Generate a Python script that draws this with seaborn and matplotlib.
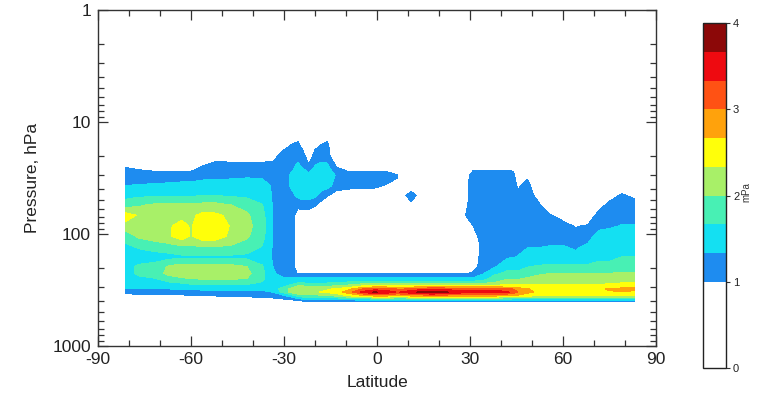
""" Ozone partial pressure cross-section: pressure vs latitude. """
import numpy as np
import matplotlib
matplotlib.use("Agg")
import matplotlib.pyplot as plt
from matplotlib.ticker import LogLocator, MultipleLocator, NullFormatter
import seaborn as sns

sns.set_style("ticks")
plt.rcParams["font.family"] = ["Liberation Sans", "DejaVu Sans"]
plt.rcParams["axes.unicode_minus"] = False

# Grid: latitude columns, pressure rows (bottom -> top)
latitude = [-81, -77, -72, -67, -63, -60, -56, -52, -47, -42, -37, -33.5, -30,
            -27, -25.5, -24, -22, -20, -18, -16, -13, -9, -5, -1, 3, 6.5,
            8.5, 11, 13.5, 17, 21, 25, 28, 31, 34, 38, 42, 44, 45.5, 48.5,
            52, 56, 60, 64, 68, 71.5, 75, 79, 83]
pressure = [420, 385, 355, 330, 310, 290, 270, 250, 225, 195, 160, 130, 105,
            85, 68, 55, 45, 37, 30, 25, 20, 16, 13]

# one profile per latitude, values in mPa, listed from 420 hPa up to 13 hPa
profiles = [
    [.4, .8, .8, 1.2, 1.3, 1.5, 1.5, 1.5, 1.55, 1.55, 1.5, 1.6, 1.8, 2.2, 2.5, 1.85, 1.55, 1.33, 1.2, .98, .6, .4, .4],
    [.4, .8, .85, 1.2, 1.3, 1.45, 1.55, 1.6, 1.72, 1.72, 1.5, 1.7, 2.05, 2.25, 2.3, 1.95, 1.6, 1.36, 1.17, .92, .5, .4, .4],
    [.4, .8, .9, 1.2, 1.3, 1.45, 1.55, 1.65, 1.82, 1.8, 1.5, 1.8, 2.15, 2.25, 2.25, 2.05, 1.6, 1.38, 1.15, .85, .5, .4, .4],
    [.4, .8, .92, 1.2, 1.33, 1.5, 1.65, 1.85, 2.1, 2.05, 1.55, 1.85, 2.3, 2.3, 2.25, 2.05, 1.6, 1.4, 1.18, .8, .5, .4, .4],
    [.4, .8, .95, 1.2, 1.35, 1.55, 1.7, 1.95, 2.2, 2.15, 1.6, 1.95, 2.5, 2.45, 2.25, 2.05, 1.62, 1.42, 1.2, .75, .5, .4, .4],
    [.4, .8, .97, 1.2, 1.38, 1.6, 1.75, 2.0, 2.2, 2.15, 1.6, 1.95, 2.3, 2.3, 2.25, 2.05, 1.62, 1.42, 1.2, .78, .5, .4, .4],
    [.4, .8, .98, 1.2, 1.4, 1.6, 1.8, 2.05, 2.2, 2.15, 1.6, 2.0, 2.55, 2.6, 2.45, 2.1, 1.65, 1.45, 1.25, 1.05, .6, .4, .4],
    [.4, .8, 1.02, 1.2, 1.4, 1.6, 1.8, 2.05, 2.25, 2.15, 1.6, 2.0, 2.5, 2.55, 2.4, 2.1, 1.65, 1.45, 1.25, 1.15, .85, .4, .4],
    [.4, .8, 1.05, 1.22, 1.4, 1.6, 1.8, 2.05, 2.2, 2.1, 1.6, 1.95, 2.25, 2.3, 2.25, 2.0, 1.62, 1.45, 1.28, 1.15, .8, .4, .4],
    [.4, .82, 1.08, 1.25, 1.4, 1.6, 1.78, 2.0, 2.1, 2.0, 1.58, 1.85, 2.05, 2.1, 2.05, 1.9, 1.58, 1.45, 1.3, 1.15, .8, .4, .4],
    [.4, .85, 1.1, 1.25, 1.4, 1.55, 1.65, 1.72, 1.75, 1.7, 1.5, 1.65, 1.78, 1.82, 1.78, 1.68, 1.52, 1.42, 1.3, 1.15, .8, .4, .4],
    [.4, .9, 1.15, 1.35, 1.5, 1.55, 1.5, 1.45, 1.38, 1.33, 1.3, 1.3, 1.3, 1.3, 1.3, 1.3, 1.3, 1.3, 1.25, 1.15, .85, .4, .4],
    [.4, .95, 1.3, 1.8, 1.85, 1.6, 1.45, 1.35, 1.2, 1.2, 1.2, 1.2, 1.2, 1.2, 1.2, 1.2, 1.2, 1.25, 1.25, 1.2, 1.2, .85, .4],
    [.4, 1.05, 1.6, 2.2, 2.2, 1.8, 1.55, 1.4, 1.15, 1.1, 1.1, 1.1, 1.1, 1.1, 1.1, 1.2, 1.3, 1.4, 1.4, 1.3, 1.2, 1.05, .7],
    [.5, 1.2, 1.8, 2.3, 2.3, 2.0, 1.6, 1.4, .97, .5, .5, .5, .5, .5, .7, 1.15, 1.4, 1.55, 1.5, 1.4, 1.25, 1.1, .8],
    [.5, 1.25, 1.9, 2.3, 2.3, 2.0, 1.6, 1.4, .97, .5, .5, .5, .5, .5, .75, 1.2, 1.45, 1.55, 1.5, 1.3, 1.2, .85, .5],
    [.5, 1.3, 1.9, 2.3, 2.2, 1.9, 1.6, 1.4, .97, .5, .5, .5, .5, .5, .7, 1.2, 1.45, 1.55, 1.45, 1.1, .7, .4, .4],
    [.5, 1.3, 1.9, 2.3, 2.2, 1.9, 1.6, 1.4, .97, .5, .5, .5, .5, .5, .6, 1.05, 1.4, 1.55, 1.5, 1.35, 1.2, .85, .4],
    [.5, 1.3, 1.95, 2.35, 2.25, 1.9, 1.6, 1.4, .97, .5, .5, .5, .5, .5, .5, .85, 1.2, 1.5, 1.55, 1.4, 1.25, 1.02, .6],
    [.5, 1.3, 2.0, 2.4, 2.3, 1.95, 1.6, 1.4, .97, .5, .5, .5, .5, .5, .5, .6, 1.05, 1.45, 1.5, 1.4, 1.2, 1.1, .8],
    [.5, 1.35, 2.1, 2.5, 2.4, 2.0, 1.65, 1.4, .97, .5, .5, .5, .5, .5, .5, .5, .8, 1.2, 1.3, .97, .5, .4, .4],
    [.5, 1.4, 2.4, 2.85, 2.6, 2.1, 1.7, 1.4, .97, .5, .5, .5, .5, .5, .5, .5, .7, 1.15, 1.2, .75, .4, .4, .4],
    [.5, 1.45, 2.6, 3.4, 3.0, 2.3, 1.75, 1.4, .97, .5, .5, .5, .5, .5, .5, .5, .7, 1.1, 1.2, .75, .4, .4, .4],
    [.5, 1.5, 2.8, 3.7, 3.2, 2.4, 1.8, 1.4, .97, .5, .5, .5, .5, .5, .5, .5, .72, 1.1, 1.2, .75, .4, .4, .4],
    [.5, 1.5, 2.8, 3.6, 3.15, 2.4, 1.8, 1.4, .97, .5, .5, .5, .5, .5, .5, .5, .6, .97, 1.2, .75, .4, .4, .4],
    [.5, 1.5, 2.7, 3.3, 3.0, 2.35, 1.8, 1.4, .97, .5, .5, .5, .5, .5, .5, .5, .5, .85, 1.05, .6, .4, .4, .4],
    [.5, 1.5, 2.7, 3.4, 3.0, 2.35, 1.8, 1.4, .97, .5, .5, .5, .5, .5, .5, .6, .9, .6, .5, .4, .4, .4, .4],
    [.5, 1.5, 2.8, 3.6, 3.1, 2.4, 1.8, 1.4, .97, .5, .5, .5, .5, .5, .5, .9, 1.2, .7, .5, .4, .4, .4, .4],
    [.5, 1.5, 2.8, 3.7, 3.2, 2.4, 1.8, 1.4, .97, .5, .5, .5, .5, .5, .5, .6, .9, .6, .5, .4, .4, .4, .4],
    [.5, 1.5, 2.9, 3.85, 3.3, 2.45, 1.8, 1.4, .97, .5, .5, .5, .5, .5, .5, .5, .5, .5, .5, .4, .4, .4, .4],
    [.5, 1.5, 2.9, 3.8, 3.3, 2.45, 1.8, 1.4, .97, .5, .5, .5, .5, .5, .5, .5, .5, .5, .5, .4, .4, .4, .4],
    [.5, 1.5, 2.8, 3.55, 3.2, 2.4, 1.8, 1.4, .97, .5, .5, .5, .5, .5, .5, .5, .5, .5, .5, .4, .4, .4, .4],
    [.5, 1.5, 2.8, 3.5, 3.2, 2.4, 1.8, 1.4, .97, .5, .5, .6, .65, .7, .95, .85, .8, .8, .7, .4, .4, .4, .4],
    [.5, 1.5, 2.8, 3.5, 3.2, 2.4, 1.8, 1.4, 1.05, .85, .75, .7, .8, 1.0, 1.2, 1.2, 1.2, 1.2, 1.2, .85, .4, .4, .4],
    [.5, 1.5, 2.8, 3.5, 3.2, 2.4, 1.8, 1.5, 1.3, 1.15, 1.15, 1.1, 1.2, 1.2, 1.2, 1.2, 1.2, 1.2, 1.2, .85, .4, .4, .4],
    [.5, 1.5, 2.8, 3.5, 3.2, 2.4, 2.0, 1.85, 1.6, 1.3, 1.2, 1.2, 1.2, 1.2, 1.2, 1.2, 1.2, 1.2, 1.2, .85, .4, .4, .4],
    [.5, 1.5, 2.7, 3.4, 3.1, 2.4, 2.2, 1.95, 1.75, 1.55, 1.3, 1.2, 1.2, 1.2, 1.2, 1.2, 1.2, 1.2, 1.2, .85, .4, .4, .4],
    [.5, 1.5, 2.6, 3.2, 3.0, 2.4, 2.2, 1.95, 1.75, 1.55, 1.32, 1.25, 1.2, 1.2, 1.2, 1.2, 1.2, 1.2, 1.2, .8, .4, .4, .4],
    [.5, 1.5, 2.6, 3.0, 2.85, 2.4, 2.2, 1.95, 1.75, 1.55, 1.35, 1.25, 1.2, 1.2, 1.2, 1.2, 1.2, .9, .5, .4, .4, .4, .4],
    [.5, 1.5, 2.5, 2.75, 2.7, 2.4, 2.2, 2.05, 1.8, 1.65, 1.45, 1.32, 1.2, 1.2, 1.2, 1.2, 1.2, 1.2, .9, .4, .4, .4, .4],
    [.5, 1.45, 2.3, 2.6, 2.55, 2.4, 2.2, 2.1, 1.95, 1.7, 1.45, 1.32, 1.2, 1.2, 1.2, 1.1, .85, .5, .4, .4, .4, .4, .4],
    [.5, 1.45, 2.3, 2.6, 2.55, 2.4, 2.25, 2.1, 2.0, 1.72, 1.5, 1.35, 1.22, 1.2, 1.02, .6, .4, .4, .4, .4, .4, .4, .4],
    [.5, 1.45, 2.3, 2.6, 2.55, 2.4, 2.25, 2.1, 2.0, 1.72, 1.5, 1.35, 1.22, 1.15, .85, .5, .4, .4, .4, .4, .4, .4, .4],
    [.5, 1.45, 2.3, 2.6, 2.55, 2.4, 2.25, 2.1, 2.0, 1.72, 1.4, 1.3, 1.2, .97, .5, .4, .4, .4, .4, .4, .4, .4, .4],
    [.5, 1.45, 2.3, 2.6, 2.55, 2.4, 2.25, 2.1, 2.0, 1.72, 1.5, 1.38, 1.25, 1.05, .7, .4, .4, .4, .4, .4, .4, .4, .4],
    [.5, 1.45, 2.3, 2.6, 2.55, 2.4, 2.25, 2.1, 2.0, 1.75, 1.6, 1.5, 1.42, 1.28, 1.15, .85, .4, .4, .4, .4, .4, .4, .4],
    [.5, 1.45, 2.3, 2.6, 2.75, 2.45, 2.25, 2.1, 2.0, 1.75, 1.6, 1.5, 1.45, 1.3, 1.2, 1.1, .85, .4, .4, .4, .4, .4, .4],
    [.5, 1.45, 2.3, 2.65, 2.75, 2.5, 2.3, 2.15, 2.05, 1.8, 1.67, 1.55, 1.45, 1.35, 1.25, 1.2, 1.05, .7, .4, .4, .4, .4, .4],
    [.5, 1.45, 2.3, 2.6, 2.75, 2.5, 2.3, 2.15, 2.05, 1.8, 1.67, 1.55, 1.45, 1.35, 1.25, 1.2, .9, .5, .4, .4, .4, .4, .4],
]

levels = [0, 1, 4 / 3, 5 / 3, 2, 7 / 3, 8 / 3, 3, 10 / 3, 11 / 3, 4]
level_colors = ["white", "#1e8cf0", "#14e0f2", "#48f0b4", "#a8f068",
                "#ffff0a", "#ffa20c", "#ff5214", "#ee0a10", "#8c0808"]

ozone = np.array(profiles).T

fig = plt.figure(figsize=(7.58, 3.97), dpi=100)
ax = fig.add_axes([98 / 758, 51 / 397, 558 / 758, 336 / 397])
cf = ax.contourf(latitude, pressure, ozone, levels=levels, colors=level_colors)

ax.set_yscale("log")
ax.set_ylim(1000, 1)
ax.set_xlim(-90, 90)
ax.set_xticks(range(-90, 91, 30))
ax.xaxis.set_minor_locator(MultipleLocator(10))
ax.set_yticks([1, 10, 100, 1000])
ax.set_yticklabels(["1", "10", "100", "1000"])
ax.yaxis.set_minor_locator(LogLocator(base=10, subs=range(2, 10)))
ax.yaxis.set_minor_formatter(NullFormatter())
ax.tick_params(which="both", direction="in", top=True, right=True,
               width=0.9, colors="#333333", labelcolor="#222222",
               labelsize=12.5)
ax.tick_params(which="major", length=7)
ax.tick_params(which="minor", length=4)
ax.tick_params(axis="y", pad=5)
ax.tick_params(axis="x", pad=4)
for s in ax.spines.values():
    s.set_linewidth(1.0)
    s.set_color("#333333")
ax.set_xlabel("Latitude", fontsize=12.5, color="#222222", labelpad=6)
ax.set_ylabel("Pressure, hPa", fontsize=12.5, color="#222222", labelpad=9)

# Colour bar
cax = fig.add_axes([703 / 758, 29 / 397, 23 / 758, 345 / 397])
cb = fig.colorbar(cf, cax=cax, spacing="proportional", ticks=[0, 1, 2, 3, 4])
cb.ax.tick_params(labelsize=8, length=3, width=0.8, colors="#333333",
                  labelcolor="#222222", pad=2)
cb.outline.set_linewidth(1.0)
cb.outline.set_edgecolor("#222222")
fig.text(746 / 758, 1 - 192 / 397, "mPa", rotation=90, fontsize=7,
         ha="center", va="center", color="#333333")

fig.savefig("out.png", dpi=100)
plt.close(fig)
